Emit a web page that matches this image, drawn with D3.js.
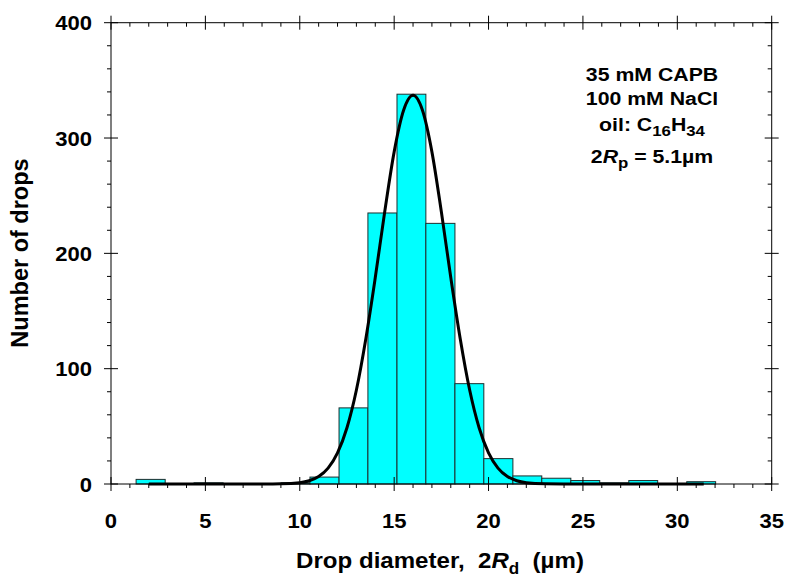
<!DOCTYPE html>
<html><head><meta charset="utf-8">
<script src="https://cdn.jsdelivr.net/npm/d3@7"></script>
<style>body{margin:0;background:#fff}svg{display:block}</style>
</head><body>
<svg id="c" width="787" height="581"></svg>
<script>
// ---- data ----
const binEdges = [1.33, 2.87, 4.40, 5.94, 7.47, 9.01, 10.54, 12.08, 13.61, 15.15, 16.68,
                  18.22, 19.75, 21.29, 22.82, 24.36, 25.89, 27.43, 28.96, 30.50, 32.03];
const counts = [4, 0, 1, 0, 0, 1, 6, 66, 235, 338, 226, 87, 22, 7, 5, 3, 1, 3, 0, 2];
const fitX = [2, 6, 8, 9, 10, 10.5, 11, 11.5, 12, 12.5, 13, 13.5, 14, 14.5, 15, 15.5, 16,
              16.5, 17, 17.5, 18, 18.5, 19, 19.5, 20, 20.5, 21, 21.5, 22, 23, 24, 26, 31.4];
const fitY = [0, 0, 0.02, 0.15, 1.15, 2.85, 6.5, 13.8, 27, 48.8, 81.5, 126, 179, 236, 288, 324, 337,
              324, 288, 236, 179, 126, 81.5, 48.8, 27, 13.8, 6.5, 2.85, 1.15, 0.15, 0.02, 0, 0];
const xTicks = [0, 5, 10, 15, 20, 25, 30, 35];
const yTicks = [0, 100, 200, 300, 400];
const xTitle = ["Drop diameter,\u00a0\u00a02", "R", "d", "\u00a0\u00a0(\u00b5m)"];
const yTitle = "Number of drops";

// ---- layout ----
const L = 111, R = 771.7, T = 22.7, B = 484;
const FONT = "'Liberation Sans', Arial, Helvetica, sans-serif";
const svg = d3.select("#c");
const x = d3.scaleLinear().domain([0, 35]).range([L, R]);
const y = d3.scaleLinear().domain([0, 400]).range([B, T]);

// bars
const bars = counts.map((c, i) => ({x0: binEdges[i], x1: binEdges[i + 1], c})).filter(d => d.c > 0);
svg.append("g").selectAll("rect").data(bars).join("rect")
  .attr("x", d => x(d.x0)).attr("width", d => x(d.x1) - x(d.x0))
  .attr("y", d => y(d.c)).attr("height", d => y(0) - y(d.c))
  .attr("fill", "#00ffff").attr("stroke", "#1e2e2e").attr("stroke-width", 1);

// fit curve
const pts = fitX.map((v, i) => [v, fitY[i]]);
svg.append("path").datum(pts)
  .attr("d", d3.line().x(d => x(d[0])).y(d => y(d[1])).curve(d3.curveMonotoneX))
  .attr("fill", "none").attr("stroke", "#000").attr("stroke-width", 3).attr("stroke-linejoin", "round");

// frame
const fr = svg.append("g").attr("stroke", "#000").attr("stroke-width", 1).attr("fill", "none");
fr.append("rect").attr("x", L).attr("y", T).attr("width", R - L).attr("height", B - T);

// ticks
const xMinor = d3.range(0, 36).filter(v => v % 5 !== 0);
const yMinor = d3.range(0, 401, 20).filter(v => v % 100 !== 0);
const tk = svg.append("g").attr("stroke", "#000").attr("stroke-width", 1);
xTicks.forEach(v => {
  tk.append("line").attr("x1", x(v)).attr("x2", x(v)).attr("y1", B - 7).attr("y2", B + 7);
  tk.append("line").attr("x1", x(v)).attr("x2", x(v)).attr("y1", T - 7).attr("y2", T + 7);
});
xMinor.forEach(v => {
  tk.append("line").attr("x1", x(v)).attr("x2", x(v)).attr("y1", B).attr("y2", B + 4);
  tk.append("line").attr("x1", x(v)).attr("x2", x(v)).attr("y1", T).attr("y2", T + 4);
});
yTicks.forEach(v => {
  tk.append("line").attr("x1", L - 7).attr("x2", L + 7).attr("y1", y(v)).attr("y2", y(v));
  tk.append("line").attr("x1", R - 7).attr("x2", R + 7).attr("y1", y(v)).attr("y2", y(v));
});
yMinor.forEach(v => {
  tk.append("line").attr("x1", L - 4).attr("x2", L).attr("y1", y(v)).attr("y2", y(v));
  tk.append("line").attr("x1", R - 4).attr("x2", R).attr("y1", y(v)).attr("y2", y(v));
});

function txt(px, py, anchor, size, sx, rot) {
  return svg.append("text")
    .attr("transform", `translate(${px},${py}) scale(${sx},1)` + (rot ? ` rotate(${rot})` : ""))
    .attr("text-anchor", anchor).attr("font-family", FONT).attr("font-weight", "bold")
    .attr("font-size", size).attr("fill", "#000");
}

// tick labels
yTicks.forEach(v => txt(92, y(v) + 7.5, "end", 21, 1.05).text(v));
xTicks.forEach(v => txt(x(v), 528, "middle", 21, 1.05).text(v));

// axis titles
svg.append("text").attr("transform", "translate(27.5,253) rotate(-90)")
  .attr("text-anchor", "middle").attr("font-family", FONT).attr("font-weight", "bold")
  .attr("font-size", 23.5).attr("fill", "#000").text(yTitle);

const xt = txt(440, 568, "middle", 22.5, 1.07);
xt.append("tspan").text(xTitle[0]);
xt.append("tspan").attr("font-style", "italic").text(xTitle[1]);
xt.append("tspan").attr("font-size", 16).attr("dy", 6).text(xTitle[2]);
xt.append("tspan").attr("dy", -6).text(xTitle[3]);

// annotation
const ax = 652;
txt(ax, 81, "middle", 19, 1.12).text("35 mM CAPB");
txt(ax, 105, "middle", 19, 1.12).text("100 mM NaCl");
const l3 = txt(ax, 131, "middle", 19, 1.12);
l3.append("tspan").text("oil: C");
l3.append("tspan").attr("font-size", 15).attr("dy", 5).text("16");
l3.append("tspan").attr("dy", -5).text("H");
l3.append("tspan").attr("font-size", 15).attr("dy", 5).text("34");
const l4 = txt(ax, 163, "middle", 19, 1.12);
l4.append("tspan").text("2");
l4.append("tspan").attr("font-style", "italic").text("R");
l4.append("tspan").attr("font-size", 15).attr("dy", 5).text("p");
l4.append("tspan").attr("dy", -5).text(" = 5.1\u00b5m");
</script>
</body></html>
